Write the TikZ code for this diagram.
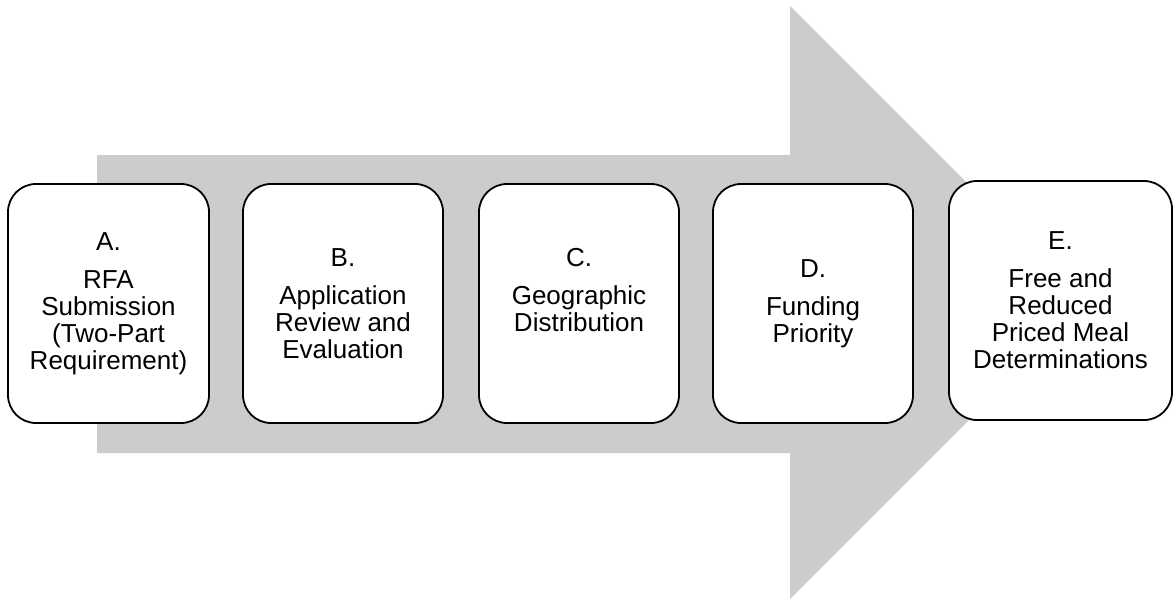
\documentclass[tikz,border=0pt]{standalone}
\usepackage{fontspec}
\setmainfont{Liberation Sans}
\definecolor{arrowgrey}{RGB}{204,204,204}
\begin{document}
\begin{tikzpicture}[x=1pt,y=-1pt,
  stepbox/.style={draw=black, line width=1.8pt, fill=white, rounded corners=28pt,
    minimum width=200pt, minimum height=239pt, inner sep=0pt,
    align=center, font=\fontsize{26}{27}\selectfont}]
\useasboundingbox (0,0) rectangle (1174,600);
% big grey arrow
\fill[arrowgrey] (97,155) -- (790,155) -- (790,6) -- (1086.5,302.5) -- (790,599) -- (790,453) -- (97,453) -- cycle;
% boxes
\node[stepbox, minimum width=201pt] (a) at (108.5,303.5) {A.\\[11pt]RFA\\Submission\\(Two-Part\\Requirement)};
\node[stepbox] (b) at (343,303.5) {B.\\[11pt]Application\\Review and\\Evaluation};
\node[stepbox] (c) at (579,303.5) {C.\\[11pt]Geographic\\Distribution\\\mbox{}};
\node[stepbox] (d) at (813,303.5) {D.\\[11pt]Funding\\Priority};
\node[stepbox, minimum width=223pt] (e) at (1060.5,300.5) {E.\\[11pt]Free and\\Reduced\\Priced Meal\\Determinations};
\end{tikzpicture}
\end{document}
